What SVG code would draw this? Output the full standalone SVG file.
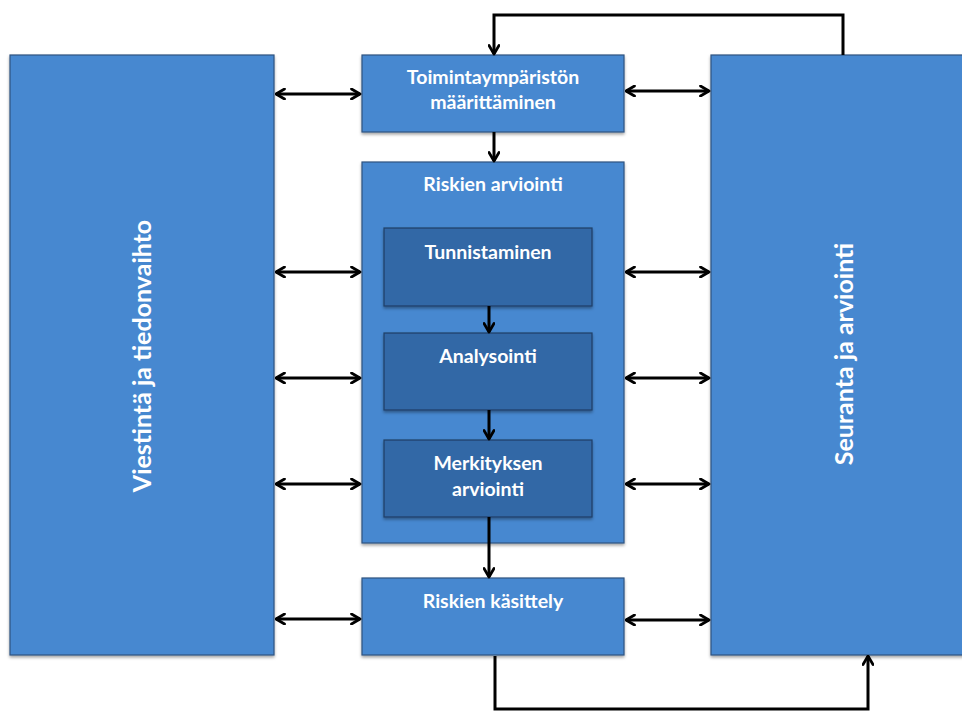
<svg xmlns="http://www.w3.org/2000/svg" width="962" height="711" viewBox="0 0 962 711">
<defs>
<marker id="ah" viewBox="0 0 12 12" refX="10.5" refY="6" markerWidth="12" markerHeight="12" markerUnits="userSpaceOnUse" orient="auto-start-reverse">
<path d="M2,1 L10.5,6 L2,11" fill="none" stroke="#000" stroke-width="2.8" stroke-linecap="round" stroke-linejoin="round"/>
</marker>
<filter id="sh" x="-5%" y="-5%" width="110%" height="115%">
<feDropShadow dx="0" dy="2" stdDeviation="1.5" flood-color="#000" flood-opacity="0.35"/>
</filter>
</defs>
<style>
.box{fill:#4688d0;stroke:#2f5480;stroke-width:1.2;filter:url(#sh)}
.inner{fill:#3368a6;stroke:#1f3f66;stroke-width:1.2;filter:url(#sh)}
.t{font-family:Lato,"Open Sans","Liberation Sans",sans-serif;font-weight:bold;fill:#fff;text-anchor:middle;font-size:19.5px}
.v{font-size:25px}
.c{fill:none;stroke:#000;stroke-width:3}
</style>
<rect width="962" height="711" fill="#fff"/>
<g id="viestinta">
<rect class="box" x="10" y="55" width="264" height="600"/>
<text class="t v" transform="translate(151,356) rotate(-90)">Viestintä ja tiedonvaihto</text>
</g>
<g id="seuranta">
<rect class="box" x="711" y="55" width="260" height="600"/>
<text class="t v" transform="translate(853,354) rotate(-90)">Seuranta ja arviointi</text>
</g>
<g id="toimintaymparisto">
<rect class="box" x="362" y="55" width="262" height="77"/>
<text class="t" x="493" y="84">Toimintaympäristön</text>
<text class="t" x="493" y="109">määrittäminen</text>
</g>
<g id="riskien-arviointi">
<rect class="box" x="362" y="162" width="262" height="381"/>
<text class="t" x="493" y="191">Riskien arviointi</text>
</g>
<g id="tunnistaminen">
<rect class="inner" x="384" y="228" width="208" height="78"/>
<text class="t" x="488" y="259">Tunnistaminen</text>
</g>
<g id="analysointi">
<rect class="inner" x="384" y="333" width="208" height="77"/>
<text class="t" x="488" y="363">Analysointi</text>
</g>
<g id="merkityksen-arviointi">
<rect class="inner" x="384" y="440" width="208" height="77"/>
<text class="t" x="488" y="470">Merkityksen</text>
<text class="t" x="488" y="496">arviointi</text>
</g>
<g id="riskien-kasittely">
<rect class="box" x="362" y="578" width="262" height="77"/>
<text class="t" x="493" y="608">Riskien käsittely</text>
</g>
<g id="connectors">
<path class="c" d="M843,55 L843,15 L494,15 L494,54" marker-end="url(#ah)"/>
<path class="c" d="M495,656 L495,709 L868,709 L868,656" marker-end="url(#ah)"/>
<path class="c" d="M494,132 L494,161" marker-end="url(#ah)"/>
<path class="c" d="M489,306 L489,332" marker-end="url(#ah)"/>
<path class="c" d="M489,410 L489,439" marker-end="url(#ah)"/>
<path class="c" d="M489,517 L489,577" marker-end="url(#ah)"/>
<path class="c" d="M276,94 L360,94" marker-start="url(#ah)" marker-end="url(#ah)"/>
<path class="c" d="M276,272 L360,272" marker-start="url(#ah)" marker-end="url(#ah)"/>
<path class="c" d="M276,378 L360,378" marker-start="url(#ah)" marker-end="url(#ah)"/>
<path class="c" d="M276,484 L360,484" marker-start="url(#ah)" marker-end="url(#ah)"/>
<path class="c" d="M276,619 L360,619" marker-start="url(#ah)" marker-end="url(#ah)"/>
<path class="c" d="M626,91 L709,91" marker-start="url(#ah)" marker-end="url(#ah)"/>
<path class="c" d="M626,272 L709,272" marker-start="url(#ah)" marker-end="url(#ah)"/>
<path class="c" d="M626,378 L709,378" marker-start="url(#ah)" marker-end="url(#ah)"/>
<path class="c" d="M626,484 L709,484" marker-start="url(#ah)" marker-end="url(#ah)"/>
<path class="c" d="M626,620 L709,620" marker-start="url(#ah)" marker-end="url(#ah)"/>
</g>
</svg>
